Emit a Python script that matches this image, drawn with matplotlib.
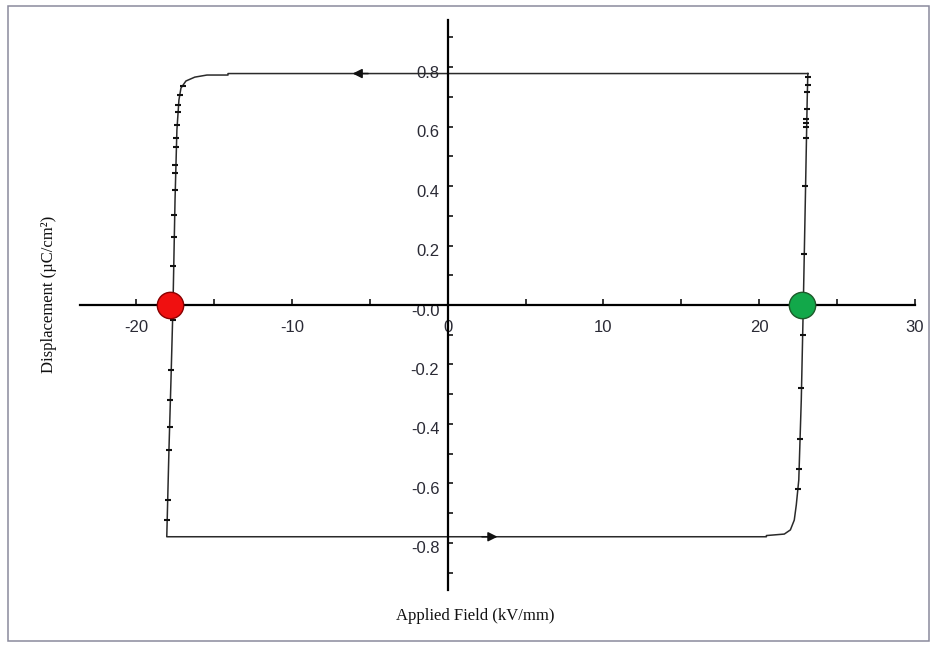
import numpy as np
import matplotlib.pyplot as plt
from matplotlib.patches import Rectangle
from matplotlib.transforms import ScaledTranslation

# D-E hysteresis loop, traced from the top-right corner, anticlockwise
loop_E = [23.12, -14.1, -14.1, -15.45, -16.23, -16.80, -17.12, -17.25, -17.38,
          -17.50, -17.63, -17.76, -17.89, -18.03,
          20.46, 20.46, 21.61, 22.00, 22.25, 22.38, 22.54, 22.70, 22.83,
          22.96, 23.08, 23.12]
loop_D = [0.778, 0.778, 0.773, 0.773, 0.766, 0.753, 0.729, 0.689, 0.588,
          0.353, 0.0, -0.252, -0.487, -0.779,
          -0.779, -0.775, -0.770, -0.756, -0.723, -0.672, -0.588, -0.319, 0.0,
          0.353, 0.690, 0.778]

# scatter of the raw points along the switching branches
left_noise_E = [-17.00, -17.20, -17.30, -17.28, -17.40, -17.42, -17.45, -17.50,
                -17.48, -17.52, -17.55, -17.56, -17.60, -17.66, -17.75, -17.80,
                -17.84, -17.90, -17.96, -18.00]
left_noise_D = [0.735, 0.706, 0.672, 0.650, 0.605, 0.560, 0.530, 0.471, 0.445,
                0.387, 0.303, 0.230, 0.130, -0.050, -0.218, -0.319, -0.410,
                -0.487, -0.655, -0.723]
right_noise_E = [23.12, 23.10, 23.08, 23.06, 23.02, 23.01, 23.00, 22.99, 22.92,
                 22.90, 22.78, 22.70, 22.62, 22.56, 22.50]
right_noise_D = [0.765, 0.740, 0.715, 0.660, 0.625, 0.612, 0.600, 0.560, 0.400,
                 0.170, -0.100, -0.280, -0.450, -0.550, -0.620]

# direction of travel
arrow_E = [-6.1, 3.2]
arrow_D = [0.778, -0.779]
arrow_dir = [-1, 1]

# coercive field markers
coercive_E = [-17.8, 22.75]
coercive_colors = ["#f01010", "#12a84a"]
coercive_edges = ["#8a0000", "#1d5a2a"]

x_ticks = [-20, -10, 0, 10, 20, 30]
x_tick_labels = ["-20", "-10", "0", "10", "20", "30"]
y_ticks = [-0.8, -0.6, -0.4, -0.2, 0.0, 0.2, 0.4, 0.6, 0.8]
y_tick_labels = ["-0.8", "-0.6", "-0.4", "-0.2", "-0.0", "0.2", "0.4", "0.6", "0.8"]

fig = plt.figure(figsize=(9.3, 6.45), dpi=100)
ax = fig.add_axes([80 / 930, 55 / 645, 835 / 930, 570 / 645])

ax.plot(loop_E, loop_D, color="#2a2a2a", lw=1.1, solid_joinstyle="round")
ax.plot(left_noise_E, left_noise_D, ls="none", marker="_", ms=5, mew=1.5, color="#111111")
ax.plot(right_noise_E, right_noise_D, ls="none", marker="_", ms=5, mew=1.5, color="#111111")

for e, d, s in zip(arrow_E, arrow_D, arrow_dir):
    ax.annotate("", xy=(e, d), xytext=(e - s * 1.0, d),
                arrowprops=dict(arrowstyle="-|>", color="#111111", lw=1.1,
                                mutation_scale=14, shrinkA=0, shrinkB=0))

for e, c, ec in zip(coercive_E, coercive_colors, coercive_edges):
    ax.plot([e], [0.0], ls="none", marker="o", ms=19, mfc=c, mec=ec, mew=1.0, zorder=5)

ax.set_xlim(-23.6, 30.0)
ax.set_ylim(-0.958, 0.958)

for side in ["top", "right"]:
    ax.spines[side].set_visible(False)
ax.spines["left"].set_position(("data", 0))
ax.spines["bottom"].set_position(("data", 0))
ax.spines["left"].set_linewidth(1.6)
ax.spines["bottom"].set_linewidth(1.6)

ax.set_xticks(x_ticks)
ax.set_xticklabels(x_tick_labels)
ax.set_xticks([-15, -5, 5, 15, 25], minor=True)
ax.set_yticks(y_ticks)
ax.set_yticklabels(y_tick_labels)
ax.set_yticks([-0.9, -0.7, -0.5, -0.3, -0.1, 0.1, 0.3, 0.5, 0.7, 0.9], minor=True)

ax.tick_params(axis="x", which="both", direction="in", length=4.3, width=1.1, pad=11)
ax.tick_params(axis="y", which="both", direction="in", length=3.5, width=1.1, pad=6)
for lab in ax.get_xticklabels() + ax.get_yticklabels():
    lab.set_fontfamily("Liberation Sans")
    lab.set_fontsize(12)
    lab.set_color("#2a2a35")
# the value labels sit a little below their ticks
shift = ScaledTranslation(0, -4.5 / 100, fig.dpi_scale_trans)
for lab in ax.get_yticklabels():
    lab.set_transform(lab.get_transform() + shift)

ax.patch.set_visible(False)

fig.text(475 / 930, 1 - 616 / 645, "Applied Field (kV/mm)", ha="center", va="center",
         family="Liberation Serif", fontsize=12, color="#111111")
fig.text(49 / 930, 1 - 294 / 645, "Displacement (µC/cm²)", ha="center", va="center",
         rotation=90, family="Liberation Serif", fontsize=12, color="#111111")

fig.patches.append(Rectangle((8 / 930, 4 / 645), 921 / 930, 635 / 645,
                             transform=fig.transFigure, fill=False,
                             edgecolor="#8a8a9c", lw=1.1))

fig.savefig("out.png", dpi=100)
